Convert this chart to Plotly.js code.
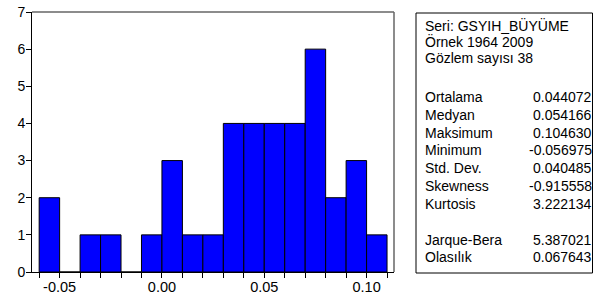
<!DOCTYPE html>
<html>
<head>
<meta charset="utf-8">
<script src="https://cdn.plot.ly/plotly-3.0.1.min.js"></script>
<style>
html,body{margin:0;padding:0;background:#fff;}
#chart{width:595px;height:303px;}
</style>
</head>
<body>
<div id="chart"></div>
<script>
// Histogram bins (centers) and counts
const binCenters = [-0.055, -0.045, -0.035, -0.025, -0.015, -0.005, 0.005, 0.015, 0.025, 0.035, 0.045, 0.055, 0.065, 0.075, 0.085, 0.095, 0.105];
const counts     = [2, 0, 1, 1, 0, 1, 3, 1, 1, 4, 4, 4, 4, 6, 2, 3, 1];
const binWidth = 0.01;

const xTickVals = [-0.05, 0.00, 0.05, 0.10];
const xTickText = ["-0.05", "0.00", "0.05", "0.10"];
const yTickVals = [0, 1, 2, 3, 4, 5, 6, 7];

const headerLines = ["Seri: GSYIH_BÜYÜME", "Örnek 1964 2009", "Gözlem sayısı 38"];
const statLabels = ["Ortalama", "Medyan", "Maksimum", "Minimum", "Std. Dev.", "Skewness", "Kurtosis"];
const statValues = ["0.044072", "0.054166", "0.104630", "-0.056975", "0.040485", "-0.915558", "3.222134"];
const testLabels = ["Jarque-Bera", "Olasılık"];
const testValues = ["5.387021", "0.067643"];

const W = 595, H = 303;
const L = 32, R = 201, T = 12, B = 31;
const pw = W - L - R, ph = H - T - B;
const px = x => (x - L) / pw;
const py = y => (H - B - y) / ph;

const font = {family: "Liberation Sans, Arial, sans-serif", size: 14, color: "#000"};

const ann = [];
headerLines.forEach((t, i) => {
  ann.push({xref:"paper", yref:"paper", x: px(423), y: py(25 + i*16.7), xanchor:"left", yanchor:"middle", text:t, showarrow:false, font});
});
statLabels.forEach((t, i) => {
  const yy = py(96.7 + i*17.9);
  ann.push({xref:"paper", yref:"paper", x: px(423), y: yy, xanchor:"left", yanchor:"middle", text:t, showarrow:false, font});
  ann.push({xref:"paper", yref:"paper", x: px(593.5), y: yy, xanchor:"right", yanchor:"middle", text:statValues[i], showarrow:false, font});
});
testLabels.forEach((t, i) => {
  const yy = py(240 + i*17);
  ann.push({xref:"paper", yref:"paper", x: px(423), y: yy, xanchor:"left", yanchor:"middle", text:t, showarrow:false, font});
  ann.push({xref:"paper", yref:"paper", x: px(593.5), y: yy, xanchor:"right", yanchor:"middle", text:testValues[i], showarrow:false, font});
});

const shapes = [
  {type:"line", xref:"paper", yref:"paper", x0:0, x1:1, y0:1, y1:1, line:{color:"#666", width:1.5}},
  {type:"line", xref:"paper", yref:"paper", x0:1, x1:1, y0:0, y1:1, line:{color:"#666", width:1.5}},
  {type:"rect", xref:"paper", yref:"paper", x0:px(416), x1:px(592.5), y0:py(273), y1:py(13), line:{color:"#000", width:1}, fillcolor:"rgba(0,0,0,0)"}
];

const trace = {
  type: "bar",
  x: binCenters,
  y: counts,
  width: binWidth,
  marker: {color: "#0000FF", line: {color: "#000", width: 1}},
  hoverinfo: "skip"
};

const layout = {
  width: W, height: H,
  margin: {l: L, r: R, t: T, b: B, pad: 0},
  paper_bgcolor: "#fff", plot_bgcolor: "#fff",
  showlegend: false,
  bargap: 0,
  font: font,
  xaxis: {
    range: [-0.0635, 0.1134],
    tickmode: "array", tickvals: xTickVals, ticktext: xTickText,
    ticks: "outside", ticklen: 5, tickwidth: 1, tickcolor: "#000",
    ticklabelstandoff: -3,
    minor: {tickmode: "linear", tick0: 0, dtick: 0.01, ticks: "outside", ticklen: 5, tickwidth: 1, tickcolor: "#000", showgrid: false},
    showline: true, linecolor: "#000", linewidth: 1,
    showgrid: false, zeroline: false,
    tickfont: {family: font.family, size: 14.5, color: "#000"}
  },
  yaxis: {
    range: [0, 7],
    tickmode: "array", tickvals: yTickVals,
    ticks: "outside", ticklen: 5, tickwidth: 1, tickcolor: "#000",
    ticklabelstandoff: -2,
    showline: true, linecolor: "#000", linewidth: 1,
    showgrid: false, zeroline: false,
    tickfont: {family: font.family, size: 14, color: "#000"}
  },
  annotations: ann,
  shapes: shapes
};

Plotly.newPlot("chart", [trace], layout, {staticPlot: true, displayModeBar: false});
</script>
</body>
</html>
